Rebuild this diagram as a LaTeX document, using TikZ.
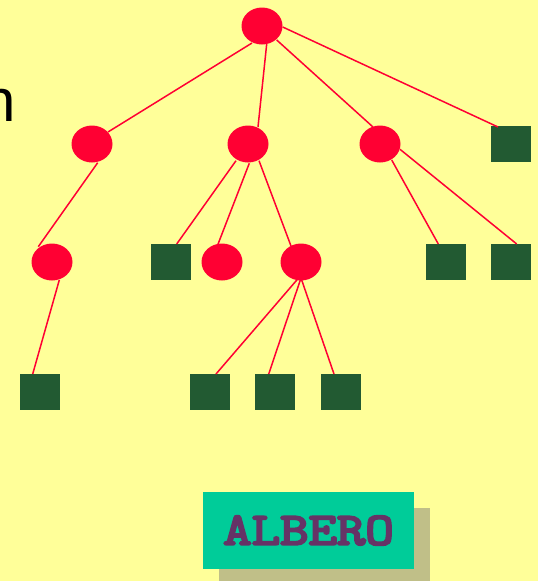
\documentclass[tikz,border=0pt]{standalone}
\usepackage{fontspec}
\setmainfont{Liberation Sans}
\newfontfamily\tagfont{Latin Modern Mono}[FakeBold=4.5]
\usetikzlibrary{shapes.geometric}
\definecolor{bgyellow}{HTML}{FFFF99}
\definecolor{nodered}{HTML}{FF0033}
\definecolor{leafgreen}{HTML}{225A32}
\definecolor{tagteal}{HTML}{00CC99}
\definecolor{tagshadow}{HTML}{C0BF88}
\definecolor{tagtext}{HTML}{663366}
\tikzset{
  inner/.style={ellipse, fill=nodered, draw=none, minimum width=41pt, minimum height=37pt, inner sep=0pt},
  leaf/.style={rectangle, fill=leafgreen, draw=none, minimum width=40pt, minimum height=36pt, inner sep=0pt},
  branch/.style={draw=nodered, line width=1.5pt},
}
% point on a node, offset from its centre
\newcommand\onnode[3]{([shift={(#2,#3)}]#1.center)}
\begin{document}
\begin{tikzpicture}[x=1pt,y=-1pt]
  \clip (0,0) rectangle (538,581);
  \fill[bgyellow] (0,0) rectangle (538,581);
  % cut-off word at the left edge
  \node[anchor=base east, inner sep=0pt, font=\fontsize{60}{72}\selectfont] (word) at (16,121) {n};

  % nodes
  \node[inner] (r)   at (262,26) {};
  \node[inner] (a)   at (92,144) {};
  \node[inner] (b)   at (248,144) {};
  \node[inner] (c)   at (380,144) {};
  \node[leaf]  (d)   at (511,144) {};
  \node[inner] (a1)  at (52,262) {};
  \node[leaf]  (b1)  at (171,262) {};
  \node[inner] (b2)  at (222,262) {};
  \node[inner] (b3)  at (301,262) {};
  \node[leaf]  (c1)  at (446,262) {};
  \node[leaf]  (c2)  at (511,262) {};
  \node[leaf]  (a11) at (40,392) {};
  \node[leaf]  (b31) at (210,392) {};
  \node[leaf]  (b32) at (275,392) {};
  \node[leaf]  (b33) at (341,392) {};

  % edges, each ending on the rim of its nodes
  \draw[branch] \onnode{r}{-10}{17}    -- \onnode{a}{16}{-12};
  \draw[branch] \onnode{r}{4.7}{18}    -- \onnode{b}{10}{-17};
  \draw[branch] \onnode{r}{14.7}{14}   -- \onnode{c}{-7}{-17};
  \draw[branch] \onnode{r}{20.7}{1}    -- \onnode{d}{-13}{-17};
  \draw[branch] \onnode{a}{5.7}{18.7}  -- \onnode{a1}{-13.7}{-15.3};
  \draw[branch] \onnode{b}{-12}{16.7}  -- \onnode{b1}{5.7}{-18};
  \draw[branch] \onnode{b}{1.3}{19.3}  -- \onnode{b2}{-4.7}{-16};
  \draw[branch] \onnode{b}{11}{16.7}   -- \onnode{b3}{-10}{-16};
  \draw[branch] \onnode{c}{11.7}{16}   -- \onnode{c1}{-7.7}{-18};
  \draw[branch] \onnode{c}{20}{5.3}    -- \onnode{c2}{5.7}{-18};
  \draw[branch] \onnode{a1}{7.3}{18}   -- \onnode{a11}{-7.3}{-18};
  \draw[branch] \onnode{b3}{-2.7}{16.3} -- \onnode{b31}{6}{-18};
  \draw[branch] \onnode{b3}{0}{16}     -- \onnode{b32}{-6.3}{-18};
  \draw[branch] \onnode{b3}{0}{16}     -- \onnode{b33}{-7}{-18};

  % label box with drop shadow
  \fill[tagshadow] (219,508) rectangle (430,581);
  \node[fill=tagteal, minimum width=211pt, minimum height=77pt, inner sep=0pt,
        text=tagtext, font=\tagfont\fontsize{46}{54}\selectfont] (tag) at (308.5,530.5)
        {\scalebox{1.2}[1]{ALBERO}};
\end{tikzpicture}
\end{document}
